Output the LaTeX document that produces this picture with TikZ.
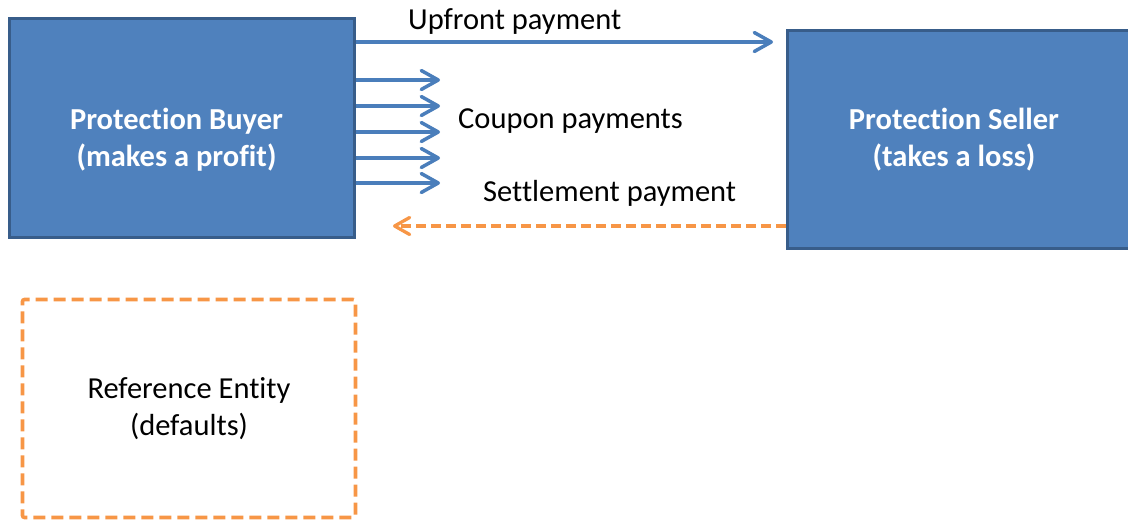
\documentclass[tikz,border=0pt]{standalone}
\usepackage{fontspec}
\setmainfont{Carlito}[Ligatures=NoCommon]
\usetikzlibrary{arrows.meta}
\definecolor{boxblue}{HTML}{4F81BD}
\definecolor{boxedge}{HTML}{385D8A}
\definecolor{arrblue}{HTML}{4A7EBB}
\definecolor{orng}{HTML}{F79646}
\begin{document}
\begin{tikzpicture}[x=1pt,y=-1pt,
  party/.style={draw=boxedge, fill=boxblue, line width=3.3pt, inner sep=0pt},
  partytext/.style={text=white, font=\fontsize{30.5}{37}\selectfont\bfseries, align=center, inner sep=0pt},
  reftext/.style={font=\fontsize{30.5}{37}\selectfont, align=center, inner sep=0pt},
  lbl/.style={font=\fontsize{30.5}{34}\selectfont, anchor=base west, inner sep=0pt},
  pay/.style={draw=arrblue, line width=3.5pt, -{Straight Barb[length=17pt,width=19pt,round]}},
  settle/.style={draw=orng, line width=3.3pt, dash pattern=on 10pt off 5pt, -{Straight Barb[length=15pt,width=17pt,round]}},
  refbox/.style={draw=orng, line width=3.6pt, dash pattern=on 12pt off 6pt, rounded corners=2pt, inner sep=0pt}
]
\useasboundingbox (0,0) rectangle (1128,523);
\node[party, minimum width=345pt, minimum height=219pt] (buyer) at (182,128) {};
\node[party, minimum width=350pt, minimum height=218pt] (seller) at (962.5,139.5) {};
\node[partytext] (buyertext) at (176.5,139.5) {Protection Buyer\\(makes a profit)};
\node[partytext] (sellertext) at (954,139.5) {Protection Seller\\(takes a loss)};
\node[refbox, minimum width=333pt, minimum height=218pt, reftext] (ref) at (189,408.5) {Reference Entity\\(defaults)};
\coordinate (upend) at (773,42);
\draw[pay] (buyer.east |- upend) -- (upend);
\foreach \i/\yy in {1/80,2/106,3/132,4/158,5/183}{
  \coordinate (c\i) at (440,\yy);
  \draw[pay] (buyer.east |- c\i) -- (c\i);
}
\coordinate (setend) at (393,226);
\draw[settle] (seller.west |- setend) -- (setend);
\node[lbl] (uplbl) at (408,29.5) {Upfront payment};
\node[lbl] (couplbl) at (458,128) {Coupon payments};
\node[lbl] (setlbl) at (483,201) {Settlement payment};
\end{tikzpicture}
\end{document}
